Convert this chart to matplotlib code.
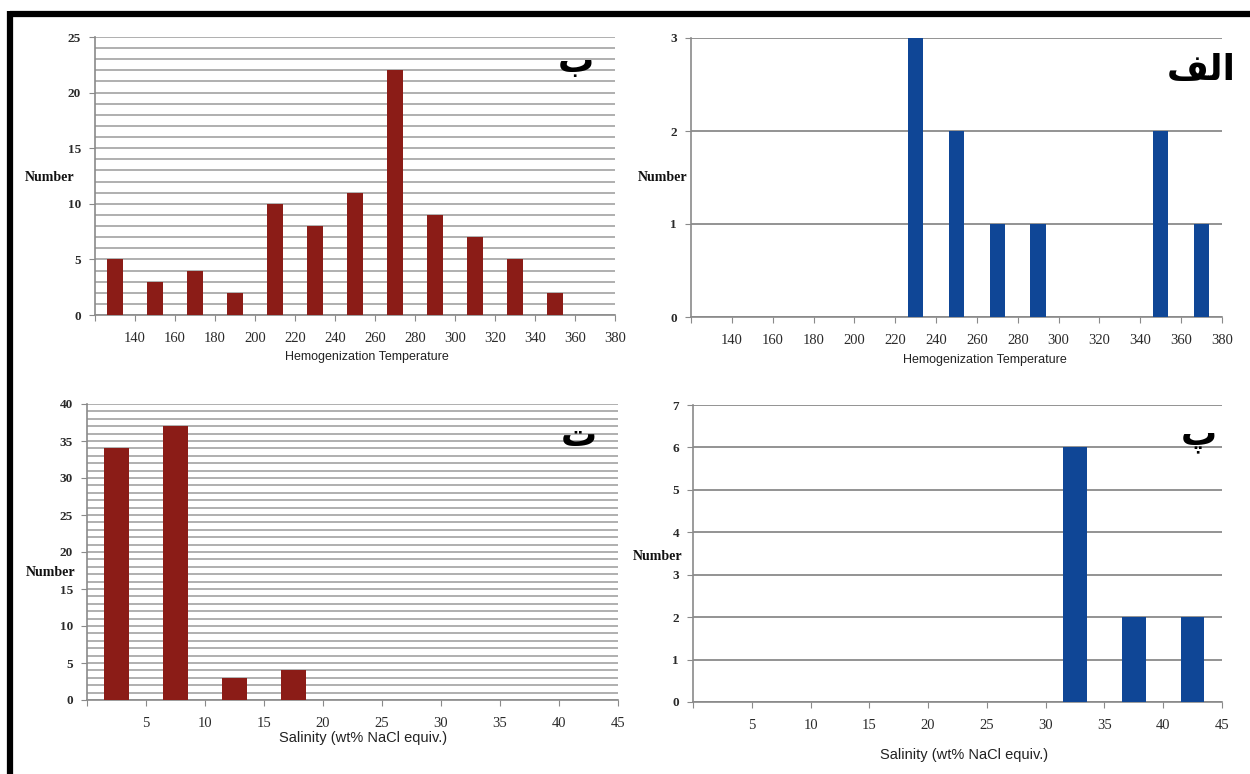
import matplotlib.pyplot as plt
from matplotlib.lines import Line2D
from matplotlib.ticker import MultipleLocator

# homogenization temperature classes (bin centres, 20 degree bins)
temp_bins = [130, 150, 170, 190, 210, 230, 250, 270, 290, 310, 330, 350, 370]
temp_counts_b = [5, 3, 4, 2, 10, 8, 11, 22, 9, 7, 5, 2, 0]
temp_counts_alef = [0, 0, 0, 0, 0, 3, 2, 1, 1, 0, 0, 2, 1]
temp_ticks = [120, 140, 160, 180, 200, 220, 240, 260, 280, 300, 320, 340, 360, 380]

# salinity classes (bin centres, 5 wt% bins)
sal_bins = [2.5, 7.5, 12.5, 17.5, 22.5, 27.5, 32.5, 37.5, 42.5]
sal_counts_te = [34, 37, 3, 4, 0, 0, 0, 0, 0]
sal_counts_pe = [0, 0, 0, 0, 0, 0, 6, 2, 2]
sal_ticks = [0, 5, 10, 15, 20, 25, 30, 35, 40, 45]

RED = "#8B1C17"
BLUE = "#0F4696"
W, H = 1250, 774

fig = plt.figure(figsize=(12.5, 7.74), dpi=100)
fig.patch.set_facecolor("white")


def px_axes(left, top, right, bottom):
    return fig.add_axes([left / W, 1 - bottom / H, (right - left) / W, (bottom - top) / H])


def style_axes(ax, xticks, xlim, ylim, ymajor, yminor, gridcolor, gridlw):
    ax.set_xlim(*xlim)
    ax.set_ylim(*ylim)
    for s in ("top", "right"):
        ax.spines[s].set_visible(False)
    for s in ("left", "bottom"):
        ax.spines[s].set_color("#8a8a8a")
        ax.spines[s].set_linewidth(1.2)
    ax.set_xticks(xticks)
    ax.set_xticklabels([""] + [str(t) for t in xticks[1:]])
    ax.yaxis.set_major_locator(MultipleLocator(ymajor))
    ax.yaxis.set_minor_locator(MultipleLocator(yminor))
    ax.tick_params(axis="x", direction="out", length=4, color="#8a8a8a", pad=8,
                   labelsize=10.5, labelcolor="#2a2a2a")
    ax.tick_params(axis="y", which="major", direction="out", length=4, color="#8a8a8a",
                   pad=6, labelsize=9.5, labelcolor="#2a2a2a")
    ax.tick_params(axis="y", which="minor", length=0)
    for lab in ax.get_xticklabels():
        lab.set_fontfamily("Liberation Serif")
    for lab in ax.get_yticklabels():
        lab.set_fontfamily("Liberation Serif")
        lab.set_fontweight("bold")
    ax.grid(True, axis="y", which="both", color=gridcolor, linewidth=gridlw)
    ax.set_axisbelow(True)


def number_label(ax, x, y):
    ax.text(x, y, "Number", transform=ax.transAxes, ha="center", va="center",
            fontsize=10, fontweight="bold", family="Liberation Serif", color="#111111")


# top left: homogenization temperature (ب)
ax1 = px_axes(95, 37, 615, 315)
ax1.bar(temp_bins, temp_counts_b, width=8, color=RED, zorder=3)
style_axes(ax1, temp_ticks, (120, 380), (0, 25), 5, 1, "#9a9a9a", 1.1)
number_label(ax1, -0.087, 0.495)
ax1.text(0.523, -0.151, "Hemogenization Temperature", transform=ax1.transAxes,
         ha="center", va="center", fontsize=9, family="Liberation Sans", color="#222222")

# top right: homogenization temperature (الف)
ax2 = px_axes(691, 38, 1222, 317)
ax2.bar(temp_bins, temp_counts_alef, width=7.6, color=BLUE, zorder=3)
style_axes(ax2, temp_ticks, (120, 380), (0, 3), 1, 1, "#8a8a8a", 1.3)
number_label(ax2, -0.054, 0.5)
ax2.text(0.553, -0.154, "Hemogenization Temperature", transform=ax2.transAxes,
         ha="center", va="center", fontsize=9, family="Liberation Sans", color="#222222")

# bottom left: salinity (ت)
ax3 = px_axes(87, 404, 618, 700)
ax3.bar(sal_bins, sal_counts_te, width=2.1, color=RED, zorder=3)
style_axes(ax3, sal_ticks, (0, 45), (0, 40), 5, 1, "#9a9a9a", 1.1)
number_label(ax3, -0.068, 0.43)
ax3.text(0.519, -0.129, "Salinity (wt% NaCl equiv.)", transform=ax3.transAxes,
         ha="center", va="center", fontsize=10.5, family="Liberation Sans", color="#222222")

# bottom right: salinity (پ)
ax4 = px_axes(693, 405, 1222, 702)
ax4.bar(sal_bins, sal_counts_pe, width=2.0, color=BLUE, zorder=3)
style_axes(ax4, sal_ticks, (0, 45), (0, 7), 1, 1, "#8a8a8a", 1.3)
number_label(ax4, -0.067, 0.49)
ax4.text(0.512, -0.178, "Salinity (wt% NaCl equiv.)", transform=ax4.transAxes,
         ha="center", va="center", fontsize=10.5, family="Liberation Sans", color="#222222")

# panel letters (presentation forms, since matplotlib does no Arabic shaping)
letters = [("\u0628", 576, 62), ("\uFED2\uFEDF\uFE8D", 1201, 70),
           ("\u062A", 579, 436), ("\u067E", 1199, 436)]
for txt, x, y in letters:
    fig.text(x / W, 1 - y / H, txt, ha="center", va="center", fontsize=26,
             fontweight="bold", family="DejaVu Sans", color="black")

# black frame along the top and left edges
fig.add_artist(Line2D([10 / W, 1], [1 - 14 / H, 1 - 14 / H], transform=fig.transFigure,
                      color="black", linewidth=4.5, solid_capstyle="butt"))
fig.add_artist(Line2D([10 / W, 10 / W], [1 - 11 / H, 0], transform=fig.transFigure,
                      color="black", linewidth=4.5, solid_capstyle="butt"))

fig.savefig("out.png", dpi=100, facecolor="white")
